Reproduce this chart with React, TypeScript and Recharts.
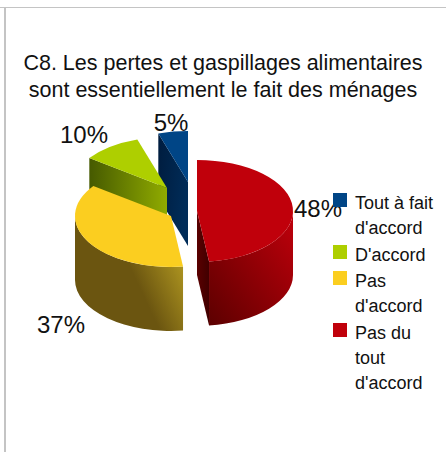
import { PieChart, Pie, Legend } from 'recharts'

const categories = ['Tout à fait d\'accord', 'D\'accord', 'Pas d\'accord', 'Pas du tout d\'accord']
const values = [5, 10, 37, 48]
const colors = ['#004586', '#aecf00', '#fbce20', '#c0000b']
const titleLines = ['C8. Les pertes et gaspillages alimentaires', 'sont essentiellement le fait des ménages']

// how far each slice is pulled away from the pie centre, and where its label sits from the slice centre
const explodeOffsets = [[-9, -29], [-30, -23], [-26, 5], [0, 0]]
const labelOffsets = [[-17, -60], [-83, -54], [-110, 108], [121, -3]]

const RX = 96
const RY = 51
const DEPTH = 64

const chartData = categories.map((name, i) => ({ name, value: values[i], fill: colors[i] }))

const rad = (deg: number) => (deg * Math.PI) / 180

function sliceCentre(props: any) {
  const i = categories.indexOf(props.name)
  return { i, x: props.cx + explodeOffsets[i][0], y: props.cy + explodeOffsets[i][1] }
}

function Slice3D(props: any) {
  const { i, x, y } = sliceCentre(props)
  const sweep = props.endAngle - props.startAngle
  const a = ((90 - props.endAngle) % 360 + 360) % 360
  const b = a + sweep
  const rim = (clock: number) => [x + RX * Math.sin(rad(clock)), y - RY * Math.cos(rad(clock))]
  const [ax, ay] = rim(a)
  const [bx, by] = rim(b)
  const large = sweep > 180 ? 1 : 0

  const w0 = Math.max(a, 90)
  const w1 = Math.min(b, 270)
  const [w0x, w0y] = rim(w0)
  const [w1x, w1y] = rim(w1)

  return (
    <g>
      {Math.sin(rad(a)) < -0.01 && (
        <path d={`M${x},${y} L${ax},${ay} L${ax},${ay + DEPTH} L${x},${y + DEPTH} Z`} fill={`url(#face${i})`} />
      )}
      {Math.sin(rad(b)) > 0.01 && (
        <path d={`M${x},${y} L${bx},${by} L${bx},${by + DEPTH} L${x},${y + DEPTH} Z`} fill={`url(#face${i})`} />
      )}
      {w0 < w1 && (
        <path
          d={`M${w0x},${w0y} A${RX},${RY} 0 0 1 ${w1x},${w1y} L${w1x},${w1y + DEPTH} A${RX},${RY} 0 0 0 ${w0x},${w0y + DEPTH} Z`}
          fill={`url(#wall${i})`}
        />
      )}
      <path d={`M${x},${y} L${ax},${ay} A${RX},${RY} 0 ${large} 1 ${bx},${by} Z`} fill={colors[i]} />
    </g>
  )
}

function renderLabel(props: any) {
  const { i, x, y } = sliceCentre(props)
  return (
    <text
      x={x + labelOffsets[i][0]}
      y={y + labelOffsets[i][1]}
      textAnchor="middle"
      dominantBaseline="central"
      fontFamily="Liberation Sans"
      fontSize={24}
      fill="#111"
    >
      {values[i]}%
    </text>
  )
}

function LegendBox() {
  return (
    <div style={{ width: 113, fontFamily: 'Liberation Sans', fontSize: 18, lineHeight: '25px', color: '#111' }}>
      {chartData.map((d) => (
        <div key={d.name} style={{ display: 'flex', marginBottom: 1.5 }}>
          <span style={{ width: 14, height: 14, marginTop: 2, marginRight: 8, background: d.fill, flex: 'none' }} />
          <span style={{ width: 87 }}>{d.name}</span>
        </div>
      ))}
    </div>
  )
}

export default function App() {
  return (
    <div style={{ position: 'absolute', left: 0, top: 0, width: 446, height: 452, overflow: 'hidden' }}>
      <div style={{ position: 'absolute', left: 0, top: 7, width: 446, height: 1, background: '#c4c4c4' }} />
      <div style={{ position: 'absolute', left: 4, top: 7, width: 2, height: 445, background: '#c4c4c4' }} />
      <PieChart width={446} height={452} margin={{ top: 0, right: 0, bottom: 0, left: 0 }}>
        <defs>
          <linearGradient id="face0" x1="0" y1="0" x2="1" y2="0.4">
            <stop offset="0" stopColor="#001c3e" />
            <stop offset="1" stopColor="#002c58" />
          </linearGradient>
          <linearGradient id="face1" x1="0" y1="0" x2="1" y2="0">
            <stop offset="0" stopColor="#465a00" />
            <stop offset="1" stopColor="#90ab00" />
          </linearGradient>
          <linearGradient id="face3" x1="0" y1="0" x2="1" y2="0">
            <stop offset="0" stopColor="#5a0000" />
            <stop offset="1" stopColor="#400000" />
          </linearGradient>
          <linearGradient id="wall2" x1="0" y1="0.8" x2="1" y2="0.3">
            <stop offset="0" stopColor="#6b5510" />
            <stop offset="0.55" stopColor="#6b5510" />
            <stop offset="1" stopColor="#b59c22" />
          </linearGradient>
          <linearGradient id="wall3" x1="0" y1="1" x2="1" y2="0">
            <stop offset="0" stopColor="#5c0000" />
            <stop offset="1" stopColor="#c0000b" />
          </linearGradient>
        </defs>
        <text textAnchor="middle" fontFamily="Liberation Sans" fontSize={21.5} fill="#111">
          <tspan x={223} y={70}>{titleLines[0]}</tspan>
          <tspan x={223} y={97}>{titleLines[1]}</tspan>
        </text>
        <Legend
          layout="vertical"
          align="right"
          verticalAlign="top"
          content={<LegendBox />}
          wrapperStyle={{ left: 333, top: 191, width: 113 }}
        />
        <Pie
          data={chartData}
          dataKey="value"
          nameKey="name"
          cx={197}
          cy={211}
          outerRadius={RX}
          startAngle={90}
          endAngle={450}
          stroke="none"
          shape={Slice3D}
          label={renderLabel}
          labelLine={false}
          isAnimationActive={false}
        />
      </PieChart>
    </div>
  )
}
